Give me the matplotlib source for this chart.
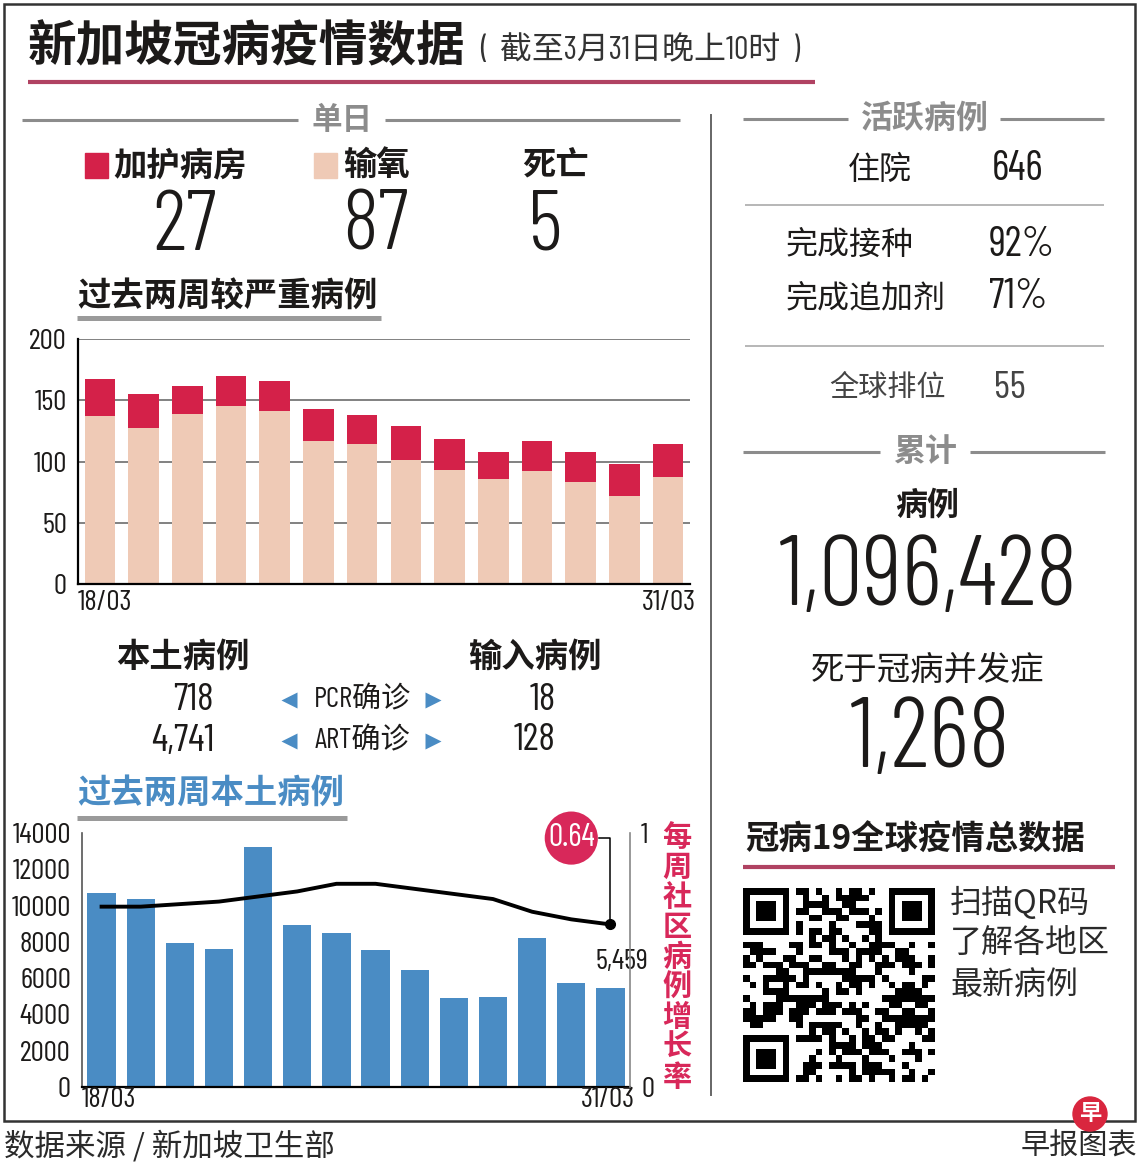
import numpy as np
import matplotlib.pyplot as plt
from matplotlib.patches import Rectangle, Circle

# -------- 字体 --------
NARROW = ["Barlow Condensed", "Oswald", "Noto Sans CJK SC", "DejaVu Sans"]
CJK = ["Noto Sans CJK SC", "DejaVu Sans"]
plt.rcParams["font.family"] = CJK
plt.rcParams["axes.unicode_minus"] = False

W, H = 1140, 1167

RED = "#d42149"
PEACH = "#efcab6"
BLUE = "#4a8cc4"
PINK = "#d8285a"
MAROON = "#b04262"
GRAY = "#8c8c8c"
INK = "#1c1a19"

# -------- 数据 --------
days = ["18/03", "19/03", "20/03", "21/03", "22/03", "23/03", "24/03",
        "25/03", "26/03", "27/03", "28/03", "29/03", "30/03", "31/03"]
icu = [30, 28, 23, 25, 25, 26, 24, 28, 25, 22, 25, 25, 26, 27]
oxygen = [137, 127, 139, 145, 141, 117, 114, 101, 93, 86, 92, 83, 72, 87]
local_cases = [10700, 10350, 7950, 7600, 13250, 8950, 8500,
               7550, 6450, 4900, 4950, 8200, 5750, 5459]
growth_rate = [0.71, 0.71, 0.72, 0.73, 0.75, 0.77, 0.80,
               0.80, 0.78, 0.76, 0.74, 0.69, 0.66, 0.64]

daily_labels = ["加护病房", "输氧", "死亡"]
daily_values = [27, 87, 5]

local_pcr, local_art = 718, 4741
import_pcr, import_art = 18, 128

hospitalised = 646
vaccinated = "92%"
booster = "71%"
world_rank = 55
total_cases = 1096428
total_deaths = 1268

fig = plt.figure(figsize=(W / 100, H / 100), dpi=100)
fig.patch.set_facecolor("white")

def px_axes(x0, y0, x1, y1, **kw):
    return fig.add_axes([x0 / W, 1 - y1 / H, (x1 - x0) / W, (y1 - y0) / H], **kw)

ov = fig.add_axes([0, 0, 1, 1], zorder=5)
ov.set_xlim(0, W)
ov.set_ylim(H, 0)
ov.axis("off")

def txt(x, y, s, size, color=INK, weight="normal", ha="center", family=CJK):
    ov.text(x, y, s, fontsize=size, color=color, fontweight=weight,
            ha=ha, va="center", family=family)

def num(x, y, s, size, color=INK, ha="center", weight=400):
    ov.text(x, y, s, fontsize=size, color=color, ha=ha, va="center",
            family=NARROW, fontweight=weight)

def hline(x0, x1, y, color=GRAY, lw=2.0):
    ov.plot([x0, x1], [y, y], color=color, lw=lw, solid_capstyle="butt")

# 外框
ov.add_patch(Rectangle((4, 4), 1131, 1117, fill=False, ec="#333333", lw=1.8))

# 标题
txt(28, 47, "新加坡冠病疫情数据", 35, weight="bold", ha="left")
ov.text(480, 51, "(  截至3月31日晚上10时  )", fontsize=23, color="#333333",
        ha="left", va="center", family=NARROW)
hline(28, 815, 82, color=MAROON, lw=3)

# 单日
txt(342, 120, "单日", 22, color=GRAY, weight="bold")
hline(22, 298, 120, lw=2.2)
hline(385, 680, 120, lw=2.2)

ov.add_patch(Rectangle((85, 153), 23, 25, color=RED))
ov.add_patch(Rectangle((314, 153), 23, 25, color=PEACH))
txt(113, 166, daily_labels[0], 24, weight="bold", ha="left")
txt(343, 166, daily_labels[1], 24, weight="bold", ha="left")
txt(522, 166, daily_labels[2], 24, weight="bold", ha="left")
for xc, v in zip([185, 375, 545], daily_values):
    num(xc, 228, str(v), 62, weight=300)

txt(77, 297, "过去两周较严重病例", 24, weight="bold", ha="left")
hline(77, 381, 318, color="#9a9a9a", lw=3.6)

# 图1: 较严重病例
x = np.arange(len(days))
ax1 = px_axes(78, 339, 690, 584, zorder=1)
ax1.bar(x, oxygen, 0.7, color=PEACH, zorder=2)
ax1.bar(x, icu, 0.7, bottom=oxygen, color=RED, zorder=2)
ax1.set_xlim(-0.5, 13.5)
ax1.set_ylim(0, 200)
ax1.set_yticks([0, 50, 100, 150, 200])
ax1.set_xticks([])
ax1.yaxis.grid(True, color="#777777", lw=1.3)
ax1.set_axisbelow(True)
for s in ["top", "right"]:
    ax1.spines[s].set_visible(False)
ax1.spines["left"].set_linewidth(1.6)
ax1.spines["bottom"].set_linewidth(1.6)
ax1.tick_params(length=0, pad=8)

TICK = 21

def style_ticks(ax):
    for lab in ax.get_yticklabels():
        lab.set_family(NARROW)
        lab.set_fontsize(TICK)
        lab.set_color(INK)

style_ticks(ax1)
ax1.text(0.0, -0.078, days[0], transform=ax1.transAxes, ha="left", va="center",
         fontsize=TICK, family=NARROW, color=INK)
ax1.text(1.01, -0.078, days[-1], transform=ax1.transAxes, ha="right", va="center",
         fontsize=TICK, family=NARROW, color=INK)

# 本土 / 输入
txt(183, 657, "本土病例", 24, weight="bold")
txt(535, 657, "输入病例", 24, weight="bold")
for yy, lv, iv, lab in [(700, local_pcr, import_pcr, "PCR确诊"),
                        (741, local_art, import_art, "ART确诊")]:
    num(214, yy, f"{lv:,}", 28, ha="right")
    num(556, yy, f"{iv:,}", 28, ha="right")
    num(362, yy, lab, 21)
    ov.plot(289, yy, marker="<", ms=11, color=BLUE, mec="none")
    ov.plot(433, yy, marker=">", ms=11, color=BLUE, mec="none")

txt(77, 793, "过去两周本土病例", 24, color=BLUE, weight="bold", ha="left")
hline(77, 347, 818, color="#9a9a9a", lw=3.6)

# 图2: 本土病例 + 增长率
ax3 = px_axes(82, 833, 630, 1087, zorder=1)
ax3.bar(x, local_cases, 0.72, color=BLUE)
ax3.set_xlim(-0.5, 13.5)
ax3.set_ylim(0, 14000)
ax3.set_yticks(range(0, 14001, 2000))
ax3.set_xticks([])
ax3.spines["top"].set_visible(False)
ax3.spines["right"].set_visible(False)
ax3.spines["left"].set_color("#555555")
ax3.spines["left"].set_linewidth(1.2)
ax3.spines["bottom"].set_linewidth(1.6)
ax3.tick_params(length=0, pad=8)
style_ticks(ax3)
ax3.text(0.0, -0.05, days[0], transform=ax3.transAxes, ha="left", va="center",
         fontsize=TICK, family=NARROW, color=INK)
ax3.text(1.01, -0.05, days[-1], transform=ax3.transAxes, ha="right", va="center",
         fontsize=TICK, family=NARROW, color=INK)
ax3.annotate(f"{local_cases[-1]:,}", xy=(x[-1], local_cases[-1]), xytext=(8, 19),
             textcoords="offset points", ha="center", va="center",
             fontsize=TICK, family=NARROW, color=INK)

ax4 = ax3.twinx()
ax4.set_ylim(0, 1)
ax4.set_yticks([0, 1])
ax4.set_yticklabels(["0", "1"])
for s in ["top", "left", "bottom"]:
    ax4.spines[s].set_visible(False)
ax4.spines["right"].set_color("#888888")
ax4.spines["right"].set_linewidth(1.2)
ax4.tick_params(length=0, pad=8)
style_ticks(ax4)
ax4.plot(x, growth_rate, color="black", lw=2.8)
ax4.plot(x[-1], growth_rate[-1], "o", color="black", ms=7)
cx, cy = x[-1] - 1.0, 0.98
ax4.plot([cx + 0.7, x[-1], x[-1]], [cy, cy, growth_rate[-1]],
         color="black", lw=1.1, clip_on=False)
ax4.text(cx, cy, f"{growth_rate[-1]:.2f}", ha="center", va="center", fontsize=23,
         family=NARROW, color="white", zorder=6,
         bbox=dict(boxstyle="circle,pad=0.1", fc=PINK, ec="none"))

for i, ch in enumerate("每周社区病例增长率"):
    txt(677, 837 + i * 30, ch, 21, color=PINK, weight="bold")

# 分隔线
ov.plot([711, 711], [115, 1095], color="#666666", lw=1.4)

# 活跃病例
txt(925, 119, "活跃病例", 23, color=GRAY, weight="bold")
hline(743, 848, 119, lw=2.2)
hline(1000, 1104, 119, lw=2.2)
txt(880, 170, "住院", 23)
num(1018, 170, str(hospitalised), 30)
hline(745, 1104, 205, color="#aaaaaa", lw=1.2)
txt(786, 245, "完成接种", 23, ha="left")
num(989, 245, vaccinated, 30, ha="left")
txt(786, 298, "完成追加剂", 23, ha="left")
num(989, 298, booster, 30, ha="left")
hline(745, 1104, 346, color="#aaaaaa", lw=1.2)
txt(887, 388, "全球排位", 21, color="#444444")
num(1010, 388, str(world_rank), 28, color="#444444")

# 累计
txt(925, 452, "累计", 23, color=GRAY, weight="bold")
hline(743, 880, 452, lw=2.2)
hline(970, 1105, 452, lw=2.2)
txt(927, 506, "病例", 23, weight="bold")
num(928, 580, f"{total_cases:,}", 71, weight=300)
txt(928, 670, "死于冠病并发症", 24)
num(930, 742, f"{total_deaths:,}", 71, weight=300)

# 全球数据 QR
txt(745, 840, "冠病19全球疫情总数据", 24, weight="bold", ha="left")
hline(743, 1115, 867, color=MAROON, lw=3)

n = 29
ii, jj = np.meshgrid(np.arange(n), np.arange(n), indexing="ij")
qr = (((ii * 73856093) ^ (jj * 19349663) ^ (ii * jj * 83492791)) >> 7) & 1
for (r0, c0) in [(0, 0), (0, n - 7), (n - 7, 0)]:
    qr[max(r0 - 1, 0):min(r0 + 8, n), max(c0 - 1, 0):min(c0 + 8, n)] = 0
    qr[r0:r0 + 7, c0:c0 + 7] = 1
    qr[r0 + 1:r0 + 6, c0 + 1:c0 + 6] = 0
    qr[r0 + 2:r0 + 5, c0 + 2:c0 + 5] = 1
axq = px_axes(743, 888, 935, 1082, zorder=1)
axq.imshow(qr, cmap="gray_r", interpolation="nearest", aspect="auto")
axq.axis("off")

txt(950, 903, "扫描QR码", 23, ha="left", color="#2a2a2a")
txt(950, 943, "了解各地区", 23, ha="left", color="#2a2a2a")
txt(950, 985, "最新病例", 23, ha="left", color="#2a2a2a")

# 页脚
txt(4, 1147, "数据来源 / 新加坡卫生部", 22, ha="left", color="#2a2a2a")
txt(1137, 1147, "早报图表", 21, ha="right", color="#2a2a2a")
ov.add_patch(Circle((1090, 1114), 17, color="#d9263e", zorder=6))
ov.text(1090, 1113, "早", fontsize=16, color="white", fontweight="bold",
        ha="center", va="center", zorder=7)

fig.savefig("out.png", dpi=100)
